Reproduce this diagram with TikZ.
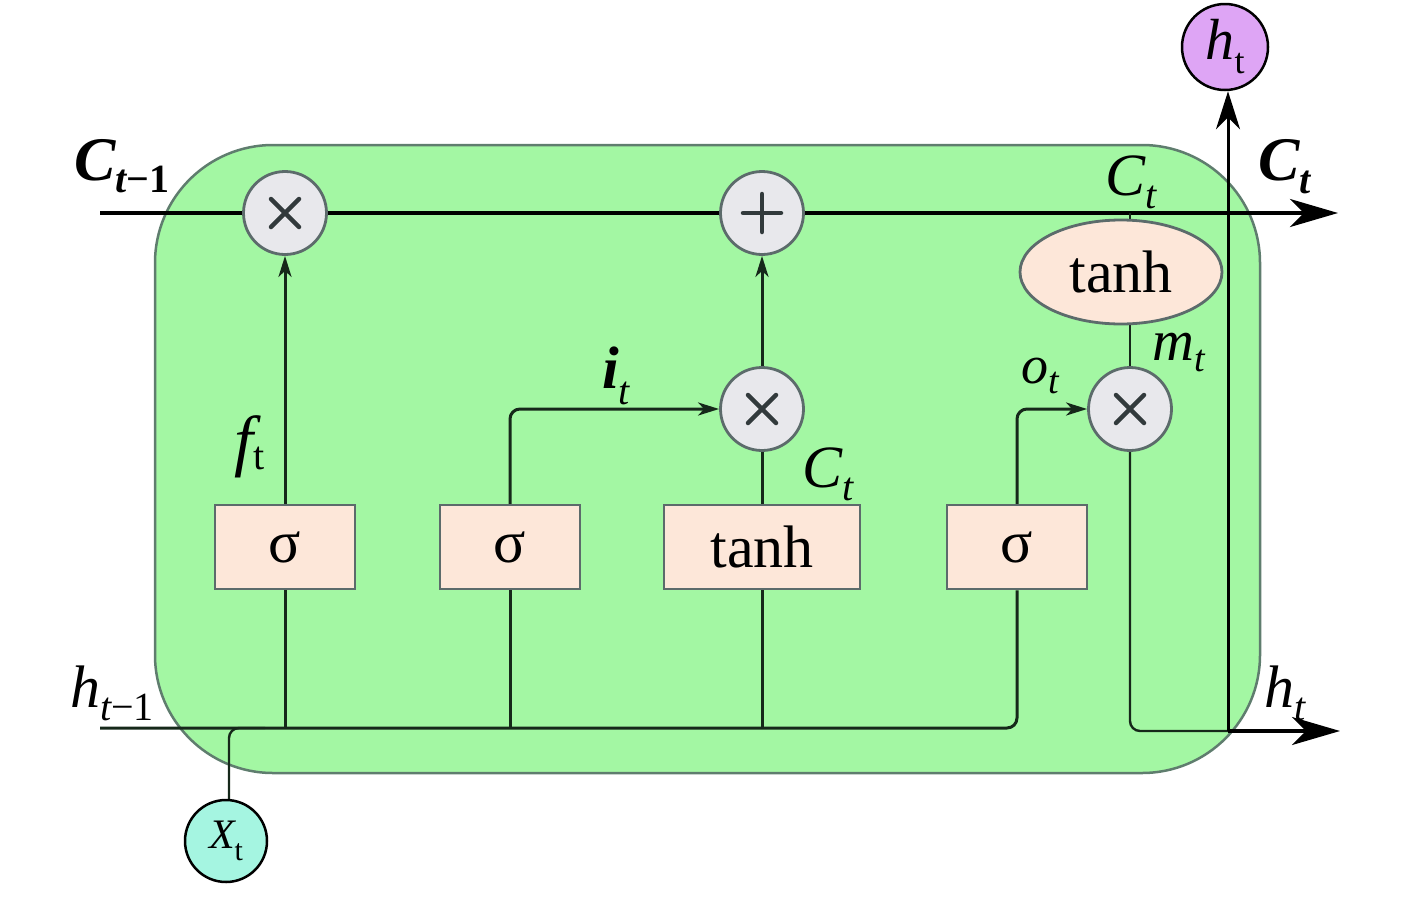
\documentclass[tikz,border=0pt]{standalone}
\usepackage{fontspec}
\setmainfont{Liberation Serif}
\usetikzlibrary{arrows.meta,backgrounds,shapes.geometric}
\definecolor{cellgreen}{RGB}{163,247,163}
\definecolor{cellborder}{RGB}{95,125,110}
\definecolor{peach}{RGB}{253,231,217}
\definecolor{opgray}{RGB}{232,232,236}
\definecolor{opborder}{RGB}{92,107,107}
\definecolor{outpurple}{RGB}{222,165,245}
\definecolor{inaqua}{RGB}{165,245,225}
\definecolor{darkwire}{RGB}{22,40,26}
\definecolor{markgray}{RGB}{50,58,60}
\newcommand\fsz[1]{\fontsize{#1}{#1}\selectfont}
\begin{document}
\begin{tikzpicture}[x=1pt,y=-1pt,
  gatebox/.style={draw=opborder,line width=2.5pt,fill=peach,minimum height=84pt,inner sep=0pt,font=\fsz{60}},
  opcirc/.style={circle,draw=opborder,line width=2.8pt,fill=opgray,minimum size=83pt,inner sep=0pt},
  iocirc/.style={circle,draw=black,line width=2.5pt,minimum size=84pt,inner sep=0pt},
  lbl/.style={inner sep=0pt,anchor=base west},
  wire/.style={line width=3pt,draw=darkwire},
  thinwire/.style={line width=2.4pt,draw=darkwire},
  mainwire/.style={line width=3.6pt,draw=black},
  bigtip/.style={-{Stealth[length=48pt,width=28pt,inset=14pt]}},
  uptip/.style={-{Stealth[length=38pt,width=24pt,inset=12pt]}},
  smalltip/.style={-{Stealth[length=21pt,width=13pt,inset=6pt]}},
  crossmark/.style={line width=4.5pt,draw=markgray,line cap=round}
]
\useasboundingbox (0,0) rectangle (1417,900);

% operator circles
\node[opcirc] (x1) at (285,213) {};
\node[opcirc] (plus) at (762,213) {};
\node[opcirc] (x2) at (762,409) {};
\node[opcirc] (x3) at (1130,409) {};
\foreach \n in {x1,x2,x3}{
  \draw[crossmark] ([shift={(-14pt,-14pt)}]\n.center) -- ([shift={(14pt,14pt)}]\n.center);
  \draw[crossmark] ([shift={(-14pt,14pt)}]\n.center) -- ([shift={(14pt,-14pt)}]\n.center);
}
\draw[crossmark] ([shift={(-19pt,0pt)}]plus.center) -- ([shift={(19pt,0pt)}]plus.center);
\draw[crossmark] ([shift={(0pt,-19pt)}]plus.center) -- ([shift={(0pt,19pt)}]plus.center);

% gates
\node[gatebox,minimum width=140pt] (s1) at (285,547) {σ};
\node[gatebox,minimum width=140pt] (s2) at (510,547) {σ};
\node[gatebox,minimum width=196pt] (tb) at (762,547) {tanh};
\node[gatebox,minimum width=140pt] (s3) at (1017,547) {σ};
\node[ellipse,draw=opborder,line width=2.8pt,fill=peach,minimum width=202pt,minimum height=104pt,inner sep=0pt,font=\fsz{60}] (te) at (1121,272) {tanh};

% input / output circles
\node[iocirc,fill=outpurple,minimum size=86pt,font=\fsz{58}] (ht) at (1225,47) {\itshape h\raisebox{-14pt}{\fsz{36}\upshape t}};
\node[iocirc,fill=inaqua,minimum size=82pt,font=\fsz{42}] (xt) at (226,841) {\itshape X\raisebox{-12pt}{\fsz{30}\upshape t}};

% coordinates
\coordinate (cin) at (100,213);
\coordinate (cout) at (1338,213);
\coordinate (hin) at (100,728);
\coordinate (hj) at (1228,731);
\coordinate (hout) at (1340,731);
\coordinate (xj) at (265,728);

\begin{scope}[on background layer]
  \draw[draw=cellborder,line width=2.5pt,fill=cellgreen,rounded corners=118pt] (155,145) rectangle (1260,773);
  % cell state
  \draw[mainwire,bigtip] (cin) -- (cout);
  % hidden input line
  \draw[wire,rounded corners=10pt] (hin) -| (s3.south);
  \draw[wire] (s1.south) -- (s1.south |- hin);
  \draw[wire] (s2.south) -- (s2.south |- hin);
  \draw[wire] (tb.south) -- (tb.south |- hin);
  \draw[thinwire,rounded corners=10pt] (xt.north -| 229,0) |- (xj);
  % gate outputs
  \draw[wire,smalltip] (s1.north) -- (x1.south);
  \draw[wire,smalltip,rounded corners=10pt] (s2.north) |- (x2.west);
  \draw[wire] (tb.north) -- (x2.south);
  \draw[wire,smalltip] (x2.north) -- (plus.south);
  \draw[wire,smalltip,rounded corners=10pt] (s3.north) |- (x3.west);
  % output path
  \draw[thinwire] (x3 |- cin) -- (x3 |- te.north);
  \draw[thinwire] (x3 |- te.south) -- (x3.north);
  \draw[thinwire,rounded corners=10pt] (x3.south) |- (hj);
  \draw[mainwire,line width=3.2pt,bigtip] (hj) -- (hout);
  \draw[mainwire,line width=3pt,uptip] (hj) -- (hj |- ht.south);
\end{scope}

% labels
\node[lbl,font=\fsz{62}] (lcin) at (74,180) {\bfseries\itshape C\raisebox{-12pt}{\fsz{40}t\upshape −1}};
\node[lbl,font=\fsz{62}] (lcout) at (1258,180) {\bfseries\itshape C\raisebox{-13pt}{\fsz{40}t}};
\node[lbl,font=\fsz{60}] (lct1) at (1105,195) {\itshape C\raisebox{-13pt}{\fsz{40}t}};
\node[lbl,font=\fsz{60}] (lhin) at (70,707) {\itshape h\raisebox{-13pt}{\fsz{40}t\upshape −1}};
\node[lbl,font=\fsz{60}] (lhout) at (1264,707) {\itshape h\raisebox{-13pt}{\fsz{40}t}};
\node[lbl,font=\fsz{68}] (lft) at (234,463) {\itshape f\raisebox{-6pt}{\fsz{40}\upshape t}};
\node[lbl,font=\fsz{60}] (lit) at (602,388) {\bfseries\itshape i\raisebox{-16pt}{\fsz{40}\mdseries t}};
\node[lbl,font=\fsz{60}] (lct2) at (802,487) {\itshape C\raisebox{-13pt}{\fsz{40}t}};
\node[lbl,font=\fsz{54}] (lot) at (1021,383) {\itshape o\raisebox{-10pt}{\fsz{38}t}};
\node[lbl,font=\fsz{58}] (lmt) at (1152,360) {\itshape m\raisebox{-11pt}{\fsz{38}t}};
\end{tikzpicture}
\end{document}
